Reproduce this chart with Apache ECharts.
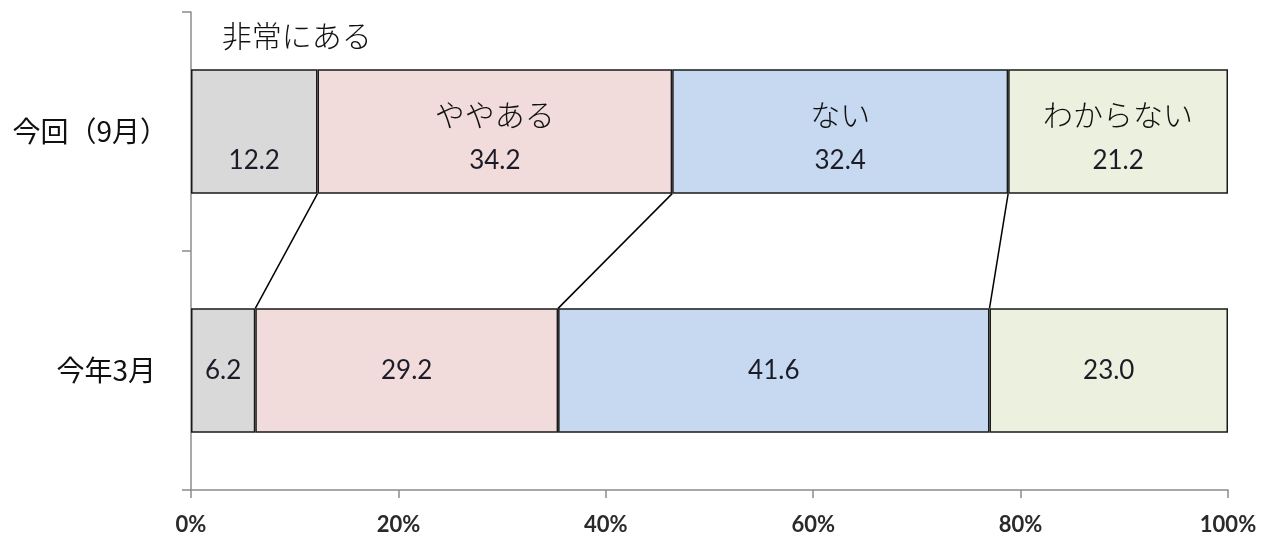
<!DOCTYPE html>
<html><head><meta charset="utf-8">
<script src="https://cdn.jsdelivr.net/npm/echarts@6/dist/echarts.min.js"></script>
<style>html,body{margin:0;padding:0;background:#fff}#c{width:1272px;height:542px}</style>
</head><body><div id="c"></div>
<script>
const categories = ['今回（9月）', '今年3月'];
const seriesNames = ['非常にある', 'ややある', 'ない', 'わからない'];
const veryMuch = [12.2, 6.2];
const somewhat = [34.2, 29.2];
const none = [32.4, 41.6];
const unknown = [21.2, 23.0];
const xTicks = [0, 20, 40, 60, 80, 100];

const valueSets = [veryMuch, somewhat, none, unknown];
const colors = ['#D9D9D9', '#F2DCDB', '#C6D9F1', '#EBF1DE'];
const BAR_RATIO = 0.52;

// connector lines between cumulative boundaries
const connectors = [];
let cTop = 0, cBot = 0;
for (let i = 0; i < valueSets.length - 1; i++) {
  cTop += valueSets[i][0];
  cBot += valueSets[i][1];
  connectors.push([cTop, cBot, 0]);
}

const series = valueSets.map((vals, si) => ({
  name: seriesNames[si],
  type: 'bar',
  stack: 'total',
  barWidth: (BAR_RATIO * 100) + '%',
  data: vals,
  itemStyle: { color: colors[si], borderColor: '#1a1a1a', borderWidth: 1.5 },
  label: {
    show: true,
    position: 'inside',
    formatter: p => p.dataIndex === 0
      ? '{n|' + p.seriesName + '}\n{v|' + p.value.toFixed(1) + '}'
      : '{w|' + p.value.toFixed(1) + '}',
    rich: {
      n: { fontFamily: 'Noto Sans CJK JP', fontSize: 30, fontWeight: 300, color: '#111',
           lineHeight: 59, padding: si === 0 ? [0, 0, 0, 85] : 0 },
      v: { fontFamily: 'Lato', fontSize: 26, color: '#1c1c28', lineHeight: si === 0 ? 191 : 33 },
      w: { fontFamily: 'Lato', fontSize: 26, color: '#1c1c28' }
    }
  },
  emphasis: { disabled: true },
  z: 2
}));

series.push({
  type: 'custom',
  data: connectors,
  encode: { x: [0, 1], y: 2 },
  silent: true,
  z: 3,
  renderItem: (params, api) => {
    const p0 = api.coord([api.value(0), 0]);
    const p1 = api.coord([api.value(1), 1]);
    const half = api.size([0, 1])[1] * BAR_RATIO / 2;
    return {
      type: 'line',
      shape: { x1: p0[0], y1: p0[1] + half, x2: p1[0], y2: p1[1] - half },
      style: { stroke: '#000', lineWidth: 1.5 }
    };
  }
});

const chart = echarts.init(document.getElementById('c'), null, { renderer: 'canvas' });
chart.setOption({
  animation: false,
  backgroundColor: '#fff',
  grid: { left: 191, right: 44, top: 12, bottom: 52, containLabel: false },
  xAxis: {
    type: 'value',
    min: xTicks[0], max: xTicks[xTicks.length - 1], interval: xTicks[1] - xTicks[0],
    axisLine: { show: true, lineStyle: { color: '#8c8c8c', width: 1.5 } },
    axisTick: { show: true, length: 8, lineStyle: { color: '#8c8c8c', width: 1.5 } },
    splitLine: { show: false },
    axisLabel: { margin: 24, formatter: '{value}%', fontFamily: 'Lato', fontWeight: 'bold', fontSize: 22, color: '#2a2a2a' }
  },
  yAxis: {
    type: 'category',
    data: categories,
    inverse: true,
    axisLine: { show: true, lineStyle: { color: '#8c8c8c', width: 1.5 } },
    axisTick: { show: true, length: 9, lineStyle: { color: '#8c8c8c', width: 1.5 } },
    axisLabel: {
      margin: 23,
      formatter: v => v.endsWith('）') ? '{a|' + v + '}' : '{b|' + v + '}',
      rich: {
        a: { fontFamily: 'Noto Sans CJK JP', fontSize: 28, color: '#111' },
        b: { fontFamily: 'Noto Sans CJK JP', fontSize: 28, color: '#111', padding: [0, 12, 0, 0] }
      }
    }
  },
  series: series
});
</script>
</body></html>
